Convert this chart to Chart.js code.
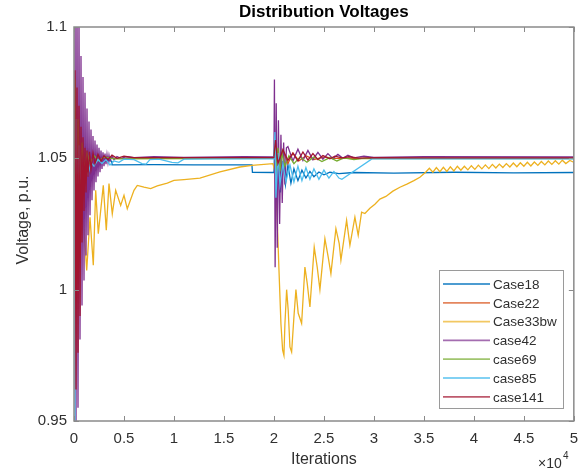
<!DOCTYPE html>
<html><head><meta charset="utf-8">
<script src="https://cdn.jsdelivr.net/npm/chart.js@4.4.1/dist/chart.umd.min.js"></script>
<style>html,body{margin:0;padding:0;background:#fff;}#wrap{width:587px;height:473px;position:relative;}</style>
</head><body><div id="wrap"><canvas id="c" width="587" height="473"></canvas></div>
<script>
// ---------------- data ----------------
const seriesNames = ['Case18','Case22','Case33bw','case42','case69','case85','case141'];
const xTickValues = [0,5000,10000,15000,20000,25000,30000,35000,40000,45000,50000];
const xTickLabels = ['0','0.5','1','1.5','2','2.5','3','3.5','4','4.5','5'];
const yTickValues = [0.95,1,1.05,1.1];
const yTickLabels = ['0.95','1','1.05','1.1'];

const iterCase18 = [0,150,350,550,750,950,1200,1500,1900,2400,2900,3400,3750,3800,8000,12000,17800,17850,20000,20100,20250,20450,20650,20900,21150,21400,21700,22000,22400,22800,23200,23600,24000,24500,25000,25600,26500,28000,32000,38000,44000,50000];
const voltCase18 = [1.050,1.056,1.042,1.054,1.044,1.052,1.046,1.0505,1.0475,1.0495,1.0485,1.0492,1.049,1.0475,1.0476,1.0475,1.0475,1.0447,1.0446,1.058,1.032,1.053,1.037,1.049,1.040,1.0475,1.0405,1.046,1.0415,1.0455,1.0425,1.045,1.043,1.0448,1.0437,1.0447,1.0442,1.0446,1.0444,1.0447,1.0445,1.0446];

const iterCase22 = [0,150,300,500,700,900,1100,1400,1700,2100,2600,3200,4000,20000,20200,20500,20900,21400,21900,22500,23200,24000,25000,26000,50000];
const voltCase22 = [1.05,1.07,1.03,1.062,1.04,1.056,1.045,1.053,1.048,1.0515,1.0495,1.0505,1.05,1.05,1.055,1.046,1.053,1.048,1.052,1.049,1.051,1.0495,1.0505,1.05,1.05];

const iterCase33bw = [0,300,600,800,1000,1270,1600,1930,2170,2430,2930,3230,3500,3830,4170,4670,5000,5330,6000,6330,7000,7670,8330,9330,10000,11000,12600,14600,16600,17800,19900,20100,20300,20500,20700,20870,21000,21100,21270,21430,21600,21770,22000,22200,22430,22770,23100,23330,23600,24030,24330,24600,25100,25430,25700,26200,26530,26700,27270,27600,28100,28430,28770,29100,29600,30100,30600,31200,31900,32600,33300,34000,34600,35200,35550,35900,36250,36600,36950,37300,37650,38000,38350,38700,39050,39400,39750,40100,40450,40800,41150,41500,41850,42200,42550,42900,43250,43600,43950,44300,44650,45000,45350,45700,46050,46400,46750,47100,47450,47800,48150,48500,48850,49200,49600,50000];
const voltCase33bw = [1.05,1.03,1.018,1.03,1.0238,1.0073,1.0276,1.0093,1.0378,1.0213,1.0397,1.0226,1.0404,1.0289,1.0378,1.0321,1.0359,1.0308,1.0378,1.0397,1.039,1.0385,1.0395,1.0406,1.0416,1.0419,1.0425,1.0448,1.0467,1.0473,1.048,1.045,1.030,1.008,0.987,0.977,0.975,0.987,1.000,0.9921,0.9782,0.9763,0.9896,1.0,0.991,0.9872,1.0086,1.0024,0.9934,1.0162,1.0086,1.0,1.0194,1.0124,1.0061,1.0232,1.0175,1.0112,1.0264,1.0169,1.0276,1.0207,1.0295,1.029,1.031,1.0325,1.0345,1.0355,1.0375,1.039,1.0402,1.0415,1.0428,1.0448,1.0462,1.0447,1.0465,1.0449,1.0466,1.045,1.0468,1.0452,1.047,1.0455,1.047,1.0456,1.0472,1.0458,1.0474,1.046,1.0475,1.0461,1.0477,1.0463,1.0478,1.0465,1.048,1.0467,1.0482,1.0468,1.0483,1.047,1.0485,1.0471,1.0486,1.0473,1.0488,1.0475,1.049,1.0477,1.0491,1.0478,1.0493,1.048,1.0492,1.0485];

const iterCase42 = [0,100,200,300,400,500,600,700,800,900,1000,1100,1200,1300,1400,1500,1600,1700,1800,1900,2000,2100,2200,2300,2400,2500,2600,2700,2800,2900,3000,3100,3200,3300,3400,3500,3600,3800,4000,4300,4700,5200,6000,8000,11000,17000,20000,20050,20120,20230,20330,20450,20570,20700,20830,20970,21100,21250,21400,21900,22400,22900,23400,23900,24400,24900,25400,25900,26400,26900,27400,28000,29000,30000,35000,50000];
const voltCase42 = [1.05,1.115,0.945,1.112,0.955,1.105,0.981,1.089,0.994,1.081,1.0035,1.075,1.013,1.069,1.0207,1.064,1.0283,1.061,1.034,1.0585,1.0378,1.0568,1.0409,1.0553,1.0431,1.054,1.0447,1.053,1.046,1.0523,1.047,1.0518,1.0478,1.0514,1.0484,1.0512,1.049,1.0508,1.0495,1.0507,1.0499,1.0506,1.0503,1.0506,1.0504,1.0506,1.0505,1.080,1.0085,1.071,1.016,1.0645,1.025,1.059,1.033,1.056,1.040,1.054,1.0545,1.049,1.0535,1.0492,1.053,1.0495,1.0523,1.0497,1.0518,1.0499,1.0515,1.05,1.0512,1.0502,1.0508,1.0504,1.0506,1.0505];

const iterCase69 = [0,100,200,400,600,800,1000,1300,1600,2000,2500,3000,4000,20000,20100,20200,20400,20600,20800,21100,21500,22000,22600,23300,24000,24800,25600,26300,27000,28000,29000,50000];
const voltCase69 = [1.05,1.08,1.03,1.065,1.04,1.056,1.046,1.052,1.048,1.051,1.049,1.0505,1.0498,1.05,1.056,1.043,1.054,1.045,1.052,1.047,1.051,1.048,1.0505,1.0485,1.0505,1.0488,1.0503,1.049,1.0502,1.0495,1.05,1.0499];

const iterCase85 = [0,100,200,350,500,650,800,1000,1200,1400,1700,2000,2400,2800,3200,3600,4000,4500,5000,6000,6800,7200,7600,8500,9800,10400,11000,14000,20000,20100,20200,20400,20600,20900,21200,21600,22000,22400,22800,23200,23600,24000,24500,25000,25500,26000,26500,26800,29800,50000];
const voltCase85 = [0.95,1.03,1.065,1.035,1.055,1.042,1.046,1.0425,1.047,1.044,1.0485,1.047,1.0495,1.048,1.0495,1.0475,1.049,1.0485,1.0497,1.0495,1.048,1.0478,1.0495,1.0497,1.0485,1.0483,1.0497,1.0498,1.0498,1.060,1.035,1.052,1.040,1.048,1.041,1.0475,1.041,1.047,1.0415,1.0465,1.042,1.046,1.042,1.0455,1.0425,1.045,1.0425,1.042,1.0498,1.0498];

const iterCase141 = [0,100,200,300,400,500,600,700,800,900,1000,1100,1200,1300,1400,1550,1700,1900,2100,2400,2700,3000,3400,3800,4300,5000,6000,20000,20150,20400,20900,21400,21900,22400,22900,23400,23900,24400,24900,25600,26100,26800,27500,28500,30000,35000,50000];
const voltCase141 = [1.05,1.0835,0.962,1.077,0.976,1.07,0.99,1.062,1.018,1.058,1.03,1.054,1.037,1.053,1.043,1.0525,1.046,1.052,1.048,1.0515,1.049,1.051,1.0495,1.0512,1.05,1.0508,1.0503,1.0503,1.057,1.048,1.0533,1.0492,1.052,1.049,1.0524,1.0493,1.0518,1.0495,1.0511,1.0498,1.0508,1.0502,1.0506,1.0501,1.0503,1.0502,1.0502];

const iterSeries = [iterCase18,iterCase22,iterCase33bw,iterCase42,iterCase69,iterCase85,iterCase141];
const voltSeries = [voltCase18,voltCase22,voltCase33bw,voltCase42,voltCase69,voltCase85,voltCase141];

// ---------------- style ----------------
const colors = ['#0072BD','#D95319','#EDB120','#7E2F8E','#77AC30','#4DBEEE','#A2142F'];
const FONT = '"Liberation Sans", Arial, Helvetica, sans-serif';
const TXT = '#303030';
const AXC = '#8a8a8a';

const datasets = seriesNames.map((name, i) => ({
  label: name,
  data: iterSeries[i].map((x, j) => ({x: x, y: voltSeries[i][j]})),
  borderColor: colors[i],
  backgroundColor: colors[i],
  borderWidth: 1.3,
  pointRadius: 0,
  tension: 0,
  fill: false,
  order: seriesNames.length - i
}));

const decor = {
  id: 'decor',
  afterDraw(chart) {
    const ctx = chart.ctx, a = chart.chartArea;
    const xs = chart.scales.x, ys = chart.scales.y;
    ctx.save();
    // box
    ctx.strokeStyle = AXC; ctx.lineWidth = 1.5;
    ctx.strokeRect(a.left, a.top, a.right - a.left, a.bottom - a.top);
    // inward ticks
    ctx.lineWidth = 1;
    ctx.beginPath();
    xTickValues.forEach(v => {
      const px = Math.round(xs.getPixelForValue(v)) + 0.5;
      ctx.moveTo(px, a.bottom); ctx.lineTo(px, a.bottom - 5);
      ctx.moveTo(px, a.top); ctx.lineTo(px, a.top + 5);
    });
    yTickValues.forEach(v => {
      const py = Math.round(ys.getPixelForValue(v)) + 0.5;
      ctx.moveTo(a.left, py); ctx.lineTo(a.left + 5, py);
      ctx.moveTo(a.right, py); ctx.lineTo(a.right - 5, py);
    });
    ctx.stroke();
    // title
    ctx.fillStyle = '#000';
    ctx.font = 'bold 17px ' + FONT;
    ctx.textAlign = 'center'; ctx.textBaseline = 'middle';
    ctx.fillText('Distribution Voltages', (a.left + a.right) / 2, 12);
    // axis titles
    ctx.fillStyle = TXT;
    ctx.font = '16px ' + FONT;
    ctx.fillText('Iterations', (a.left + a.right) / 2, 460);
    ctx.save();
    ctx.translate(24, 220);
    ctx.rotate(-Math.PI / 2);
    ctx.fillText('Voltage, p.u.', 0, 0);
    ctx.restore();
    // exponent
    ctx.textAlign = 'left';
    ctx.font = '14px ' + FONT;
    ctx.fillText('\u00d710', 538, 464);
    ctx.font = '10px ' + FONT;
    ctx.fillText('4', 563, 456);
    // legend
    const lx = 439.5, ly = 270.5, lw = 124, lh = 138;
    ctx.fillStyle = '#fff';
    ctx.fillRect(lx, ly, lw, lh);
    ctx.strokeStyle = '#9a9a9a'; ctx.lineWidth = 1;
    ctx.strokeRect(lx, ly, lw, lh);
    ctx.font = '13.5px ' + FONT;
    ctx.textBaseline = 'middle';
    seriesNames.forEach((n, i) => {
      const y = 284 + i * 18.8;
      ctx.save();
      ctx.globalAlpha = 0.7;
      ctx.strokeStyle = colors[i]; ctx.lineWidth = 1.8;
      ctx.beginPath(); ctx.moveTo(443, y); ctx.lineTo(490, y); ctx.stroke();
      ctx.restore();
      ctx.fillStyle = TXT;
      ctx.fillText(n, 493, y + 1);
    });
    ctx.restore();
  }
};

new Chart(document.getElementById('c'), {
  type: 'line',
  data: { datasets: datasets },
  options: {
    responsive: false,
    animation: false,
    devicePixelRatio: 1,
    layout: { padding: { top: 27, right: 13, left: 0, bottom: 0 } },
    plugins: { legend: { display: false }, tooltip: { enabled: false }, title: { display: false } },
    scales: {
      x: {
        type: 'linear', min: 0, max: 50000,
        afterBuildTicks: s => { s.ticks = xTickValues.map(v => ({value: v})); },
        afterFit: s => { s.height = 52; },
        grid: { display: false, drawTicks: false },
        border: { display: false },
        ticks: { padding: 9, color: TXT, font: { family: FONT, size: 15 }, maxRotation: 0, autoSkip: false,
          callback: (v, i) => xTickLabels[i] }
      },
      y: {
        type: 'linear', min: 0.95, max: 1.1,
        afterBuildTicks: s => { s.ticks = yTickValues.map(v => ({value: v})); },
        afterFit: s => { s.width = 74; },
        grid: { display: false, drawTicks: false },
        border: { display: false },
        ticks: { padding: 7, color: TXT, font: { family: FONT, size: 15 }, autoSkip: false,
          callback: (v, i) => yTickLabels[i] }
      }
    }
  },
  plugins: [decor]
});
</script>
</body></html>
